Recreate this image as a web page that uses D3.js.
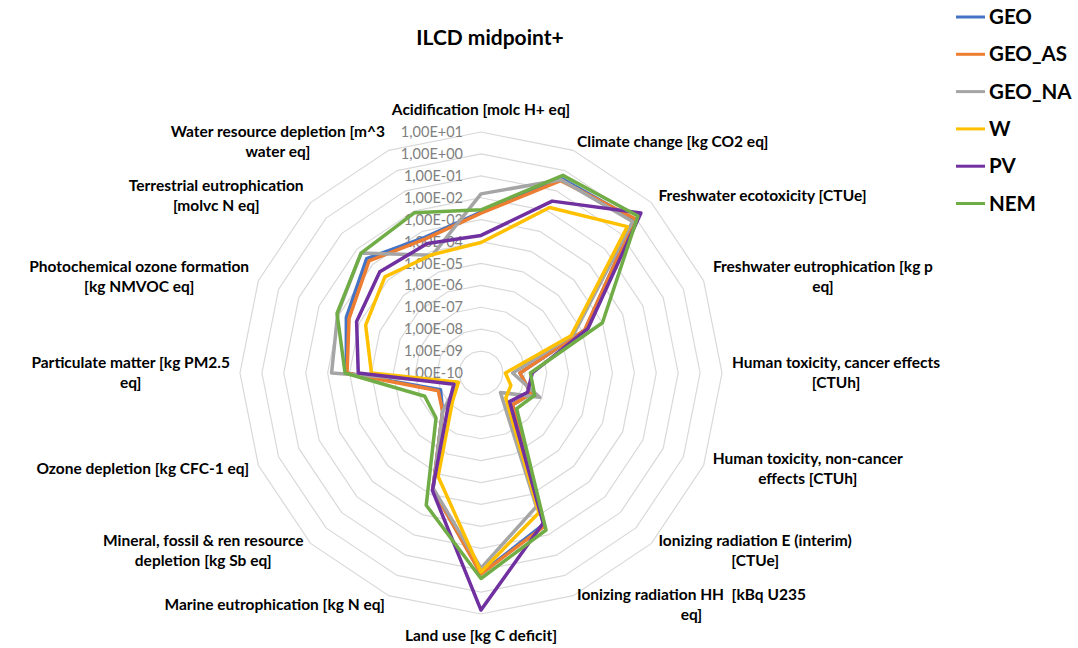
<!DOCTYPE html>
<html>
<head>
<meta charset="utf-8">
<script src="https://cdn.jsdelivr.net/npm/d3@7"></script>
<style>
    body { margin: 0; background: #fff; }
    svg { display: block; font-family: Lato, "Liberation Sans", sans-serif; }
    text { white-space: pre; }
</style>
</head>
<body>
<svg width="1078" height="648"></svg>
<script>
// impact categories, clockwise from the top (label lines as wrapped in the chart)
const categories = [
    ["Acidification [molc H+ eq]"],
    ["Climate change [kg CO2 eq]"],
    ["Freshwater ecotoxicity [CTUe]"],
    ["Freshwater eutrophication [kg p", "eq]"],
    ["Human toxicity, cancer effects", "[CTUh]"],
    ["Human toxicity, non-cancer", "effects [CTUh]"],
    ["Ionizing radiation E (interim)", "[CTUe]"],
    ["Ionizing radiation HH  [kBq U235", "eq]"],
    ["Land use [kg C deficit]"],
    ["Marine eutrophication [kg N eq]"],
    ["Mineral, fossil & ren resource", "depletion [kg Sb eq]"],
    ["Ozone depletion [kg CFC-1 eq]"],
    ["Particulate matter [kg PM2.5", "eq]"],
    ["Photochemical ozone formation", "[kg NMVOC eq]"],
    ["Terrestrial eutrophication", "[molvc N eq]"],
    ["Water resource depletion [m^3", "water eq]"]
];

const seriesNames = ["GEO", "GEO_AS", "GEO_NA", "W", "PV", "NEM"];

const GEO = [2.2e-3, 0.4, 0.8, 1.4e-5, 6e-9, 3e-8, 1.1e-8, 3e-3, 0.14, 5.5e-5, 3e-8, 1e-8, 1.4e-4, 4.5e-4, 2.4e-3, 5e-4];
const GEO_AS = [2e-3, 0.32, 0.9, 1.3e-5, 6e-9, 3e-8, 1.1e-8, 3.7e-3, 0.15, 5.5e-5, 3e-8, 1.3e-8, 1.3e-4, 3.3e-4, 1.7e-3, 4.2e-4];
const GEO_NA = [1.5e-2, 0.35, 0.6, 3.7e-6, 2.8e-9, 8e-8, 1.8e-9, 4e-4, 0.08, 5e-5, 3e-8, 1.4e-9, 6.6e-4, 1.2e-3, 5.5e-3, 6.5e-5];
const W = [9e-5, 0.015, 0.28, 2.8e-6, 1.3e-9, 3e-9, 4e-9, 8e-4, 0.12, 1.3e-5, 7e-9, 1.3e-9, 1e-5, 5e-5, 1.6e-4, 7e-5];
const PV = [1.9e-4, 0.031, 2.1, 1.9e-5, 2.2e-8, 2e-8, 7e-9, 2.6e-3, 6.6, 6.3e-5, 1.3e-8, 2.2e-9, 4e-5, 1.4e-4, 3.4e-4, 2.5e-4];
const NEM = [2.8e-3, 0.58, 1.35, 1e-4, 1.8e-8, 4.5e-8, 2e-8, 5.7e-3, 0.24, 3.4e-4, 8e-8, 6e-8, 1.6e-4, 1.3e-3, 5.5e-3, 8.3e-3];

const tickValues = [1e-10, 1e-9, 1e-8, 1e-7, 1e-6, 1e-5, 1e-4, 1e-3, 1e-2, 1e-1, 1e0, 1e1];

const seriesValues = [GEO, GEO_AS, GEO_NA, W, PV, NEM];
const colors = ["#4472C4", "#ED7D31", "#A5A5A5", "#FFC000", "#7030A0", "#70AD47"];

const svg = d3.select("svg");
const cx = 481, cy = 373, R = 241;
const n = categories.length;
const angle = i => i * 2 * Math.PI / n;

const r = d3.scaleLog().domain([1e-10, 10]).range([0, R]);

const fmt = v => {
    const e = Math.round(Math.log10(v));
    return "1,00E" + (e < 0 ? "-" : "+") + String(Math.abs(e)).padStart(2, "0");
};

// title
svg.append("text")
    .attr("x", 490).attr("y", 45)
    .attr("text-anchor", "middle")
    .attr("font-size", 21).attr("font-weight", "bold")
    .text("ILCD midpoint+");

const g = svg.append("g").attr("transform", `translate(${cx},${cy})`);

// grid rings
const ring = d3.lineRadial()
    .angle((d, i) => angle(i))
    .radius(d => r(d))
    .curve(d3.curveLinearClosed);

g.append("g").selectAll("path")
    .data(tickValues.slice(1))
    .join("path")
    .attr("d", t => ring(d3.range(n).map(() => t)))
    .attr("fill", "none")
    .attr("stroke", "#D9D9D9")
    .attr("stroke-width", 1.2);

// tick labels
g.append("g").selectAll("text")
    .data(tickValues)
    .join("text")
    .attr("x", -18)
    .attr("y", t => -r(t))
    .attr("dy", "0.35em")
    .attr("text-anchor", "end")
    .attr("font-size", 14.5)
    .attr("fill", "#808080")
    .text(fmt);

// category labels
const labels = g.append("g").selectAll("text")
    .data(categories)
    .join("text")
    .attr("font-size", 15.5)
    .attr("font-weight", "bold")
    .attr("fill", "#000");

labels.each(function (lines, i) {
    const t = d3.select(this);
    const s = Math.sin(angle(i)), c = Math.cos(angle(i));
    const lh = 20;
    lines.forEach(l => t.append("tspan").text(l));
    const w = d3.max(t.selectAll("tspan").nodes(), nd => nd.getComputedTextLength());
    const px = R * s, py = -R * c;
    let bx;
    if (Math.abs(s) < 0.1) bx = px;
    else if (s > 0) bx = px + s * 10 + w / 2;
    else bx = px + s * 10 - w / 2;
    const by = py - c * (Math.abs(s) < 0.1 ? 22 : 10);
    const top = by - (lines.length - 1) * lh / 2;
    t.attr("text-anchor", "middle");
    t.selectAll("tspan")
        .attr("x", bx)
        .attr("y", (d, k) => top + k * lh)
        .attr("dy", "0.35em");
});

// series polygons
g.append("g").selectAll("path")
    .data(seriesValues)
    .join("path")
    .attr("d", vals => ring(vals))
    .attr("fill", "none")
    .attr("stroke", (d, i) => colors[i])
    .attr("stroke-width", 3.5)
    .attr("stroke-linejoin", "round");

// legend
const legend = svg.append("g").selectAll("g")
    .data(seriesNames)
    .join("g")
    .attr("transform", (d, i) => `translate(956,${17 + i * 37.3})`);

legend.append("line")
    .attr("x1", 0).attr("x2", 29)
    .attr("stroke", (d, i) => colors[i])
    .attr("stroke-width", 3);

legend.append("text")
    .attr("x", 33)
    .attr("dy", "0.35em")
    .attr("font-size", 20.5)
    .attr("font-weight", "bold")
    .text(d => d);
</script>
</body>
</html>
